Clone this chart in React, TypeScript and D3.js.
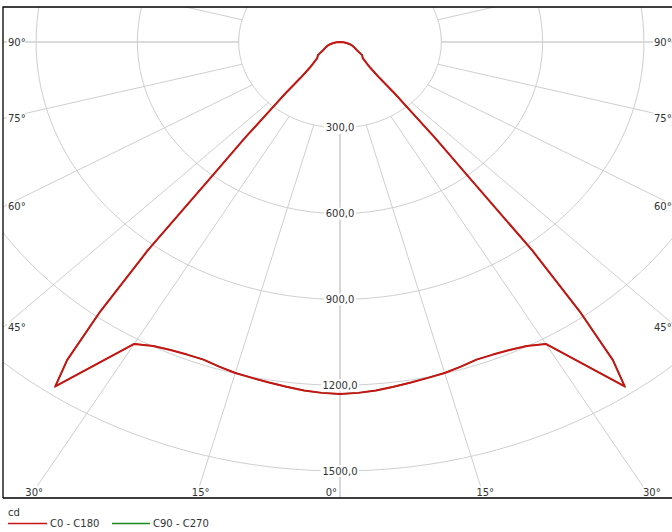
import React from 'react';
import * as d3 from 'd3';

// polar intensity distribution (cd), gamma angle from nadir
const gammaAngles = [0, 2.5, 5, 7.5, 10, 12.5, 15, 17.5, 20, 22.5, 25, 27.5, 30, 35, 36, 37, 38, 39, 40, 41, 42, 43, 45, 50, 55, 60, 65, 70, 75, 80, 85, 90];
const c0c180 = [1231, 1228, 1223, 1216, 1209, 1203, 1198, 1190, 1182, 1183, 1188, 1198, 1219, 1470, 1375, 1180, 925, 590, 440, 310, 240, 170, 125, 88, 80, 58, 48, 40, 30, 20, 10, 0];
const c90c270 = [1231, 1228, 1223, 1216, 1209, 1203, 1198, 1190, 1182, 1183, 1188, 1198, 1219, 1470, 1375, 1180, 925, 590, 440, 310, 240, 170, 125, 88, 80, 58, 48, 40, 30, 20, 10, 0];

const ringValues = [300, 600, 900, 1200, 1500];
const spokeAngles = [0, 15, 30, 45, 60, 75, 90, 105, 120, 135, 150, 165, 180];
const labelAngles = [0, 15, 30, 45, 60, 75, 90];

const W = 672;
const H = 532;
const frame = { left: 3, top: 7, right: 677, bottom: 498 };
const cx = 340;
const cy = 42;
const FONT = '"DejaVu Sans", Verdana, sans-serif';

// chart is stretched: horizontal and vertical scales differ
const rx = d3.scaleLinear().domain([0, 300]).range([0, 101.3]);
const ry = d3.scaleLinear().domain([0, 300]).range([0, 85.8]);

const rad = (deg: number) => (deg * Math.PI) / 180;
const project = (deg: number, cd: number, side: number): [number, number] => [
  cx + side * rx(cd) * Math.sin(rad(deg)),
  cy + ry(cd) * Math.cos(rad(deg)),
];

const curvePath = (values: number[]) => {
  const left = gammaAngles.map((a, i) => project(a, values[i], -1)).reverse();
  const right = gammaAngles.map((a, i) => project(a, values[i], 1));
  return d3.line().curve(d3.curveLinear)([...left, ...right.slice(1)]) || '';
};

const ellipsePath = (v: number) => {
  const pts = d3.range(0, 361, 2).map((a) => project(a, v, 1));
  return d3.line().curve(d3.curveLinearClosed)(pts) || '';
};

// where a spoke leaves the frame
const spokeExit = (deg: number, side: number) => {
  const dx = side * rx(1) * Math.sin(rad(deg));
  const dy = ry(1) * Math.cos(rad(deg));
  const tx = dx < 0 ? (frame.left - cx) / dx : dx > 0 ? (frame.right - cx) / dx : Infinity;
  const ty = dy > 0 ? (frame.bottom - cy) / dy : dy < 0 ? (frame.top - cy) / dy : Infinity;
  const t = Math.min(tx, ty);
  return { x: cx + dx * t, y: cy + dy * t, onSide: tx <= ty };
};

export default function App() {
  const gridColor = '#cfcfcf';
  const textColor = '#333';

  const spokes: JSX.Element[] = [];
  spokeAngles.forEach((a) => {
    [-1, 1].forEach((side) => {
      if ((a === 0 || a === 180) && side === 1) return;
      const [x1, y1] = project(a, ringValues[0], side);
      const [x2, y2] = project(a, 6000, side);
      spokes.push(
        <line key={`s${a}${side}`} x1={x1} y1={y1} x2={x2} y2={y2}
          stroke={gridColor} strokeWidth={a === 0 || a === 90 ? 1.6 : 1} />
      );
    });
  });

  const angleLabels: JSX.Element[] = [];
  labelAngles.forEach((a) => {
    [-1, 1].forEach((side) => {
      if (a === 0 && side === 1) return;
      const e = spokeExit(a, side);
      const text = `${a}°`;
      let x: number, y: number, anchor: string;
      if (e.onSide) {
        y = e.y;
        x = side < 0 ? frame.left + 5 : 654;
        anchor = 'start';
      } else {
        y = frame.bottom - 6;
        if (a === 0) { x = cx - 3; anchor = 'end'; }
        else { x = e.x + (side < 0 ? 5 : 1); anchor = 'middle'; }
      }
      const w = 18;
      const bx = anchor === 'start' ? x - 1 : anchor === 'end' ? x - w + 1 : x - w / 2;
      angleLabels.push(
        <g key={`l${a}${side}`}>
          <rect x={bx} y={y - 6} width={w} height={12} fill="#fff" />
          <text x={x} y={y} dy="0.35em" textAnchor={anchor} fontSize={10} fill={textColor} fontFamily={FONT}>{text}</text>
        </g>
      );
    });
  });

  return (
    <svg width={W} height={H} style={{ position: 'absolute', left: 0, top: 0, background: '#fff' }}>
      <defs>
        <clipPath id="plotClip">
          <rect x={frame.left} y={frame.top} width={frame.right - frame.left} height={frame.bottom - frame.top} />
        </clipPath>
      </defs>
      <rect x={0} y={0} width={W} height={H} fill="#fff" />
      <g clipPath="url(#plotClip)">
        {ringValues.map((v) => (
          <path key={`r${v}`} d={ellipsePath(v)} fill="none" stroke={gridColor} strokeWidth={1} />
        ))}
        {spokes}
        {ringValues.map((v) => {
          const [, y] = project(0, v, 1);
          const label = `${v},0`;
          const w = label.length * 6 + 2;
          return (
            <g key={`v${v}`}>
              <rect x={cx - w / 2} y={y - 6} width={w} height={12} fill="#fff" />
              <text x={cx} y={y} dy="0.35em" textAnchor="middle" fontSize={10} fill={textColor} fontFamily={FONT}>{label}</text>
            </g>
          );
        })}
        {angleLabels}
        <path d={curvePath(c90c270)} fill="none" stroke="#1e8a1e" strokeWidth={1.4} />
        <path d={curvePath(c0c180)} fill="none" stroke="#c81414" strokeWidth={2} strokeLinejoin="round" />
      </g>
      <path d={`M${frame.left},${frame.bottom} V${frame.top} H${frame.right + 5} M${frame.left},${frame.bottom} H${frame.right + 5}`}
        fill="none" stroke="#000" strokeWidth={1.3} />

      {/* legend */}
      <text x={8} y={516} fontSize={10} fill={textColor} fontFamily={FONT}>cd</text>
      <line x1={8} x2={47} y1={523.5} y2={523.5} stroke="#c81414" strokeWidth={1.5} />
      <text x={50} y={527} fontSize={10} fill={textColor} fontFamily={FONT}>C0 - C180</text>
      <line x1={112} x2={150} y1={523.5} y2={523.5} stroke="#1e8a1e" strokeWidth={1.5} />
      <text x={153} y={527} fontSize={10} fill={textColor} fontFamily={FONT}>C90 - C270</text>
    </svg>
  );
}
